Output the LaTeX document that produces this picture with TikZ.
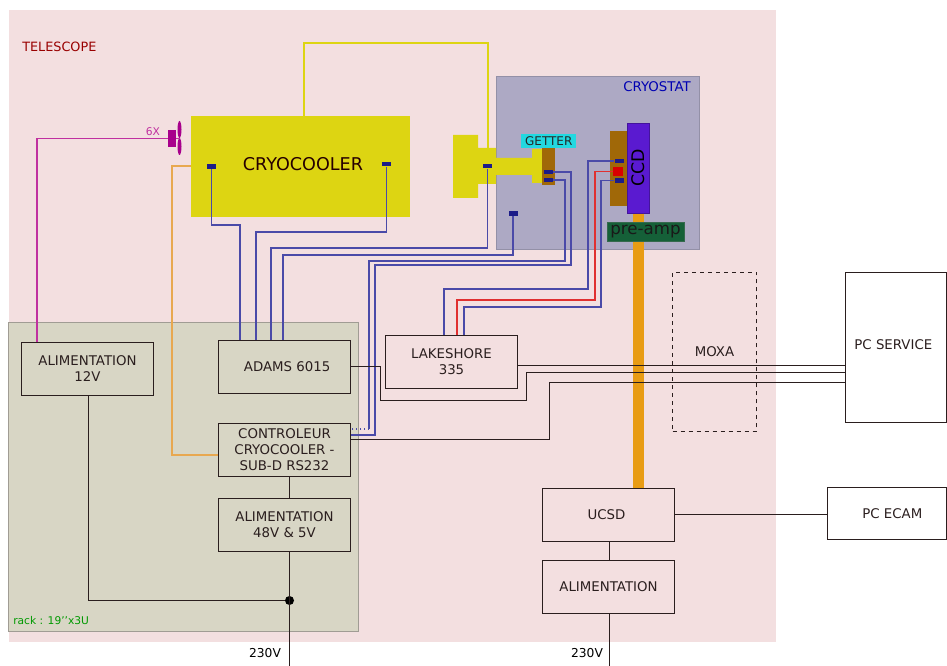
\documentclass[tikz,border=0pt]{standalone}
\usepackage{fontspec}
\setmainfont{DejaVu Sans}
\usetikzlibrary{calc,shapes.geometric}
\definecolor{telefill}{HTML}{F3DFE0}
\definecolor{rackfill}{HTML}{D8D6C5}
\definecolor{rackrule}{HTML}{A09C94}
\definecolor{cryofill}{HTML}{ADA9C4}
\definecolor{coolfill}{HTML}{DDD512}
\definecolor{getfill}{HTML}{22D8E0}
\definecolor{brownfill}{HTML}{A06808}
\definecolor{ccdfill}{HTML}{5A1AD0}
\definecolor{ampfill}{HTML}{156038}
\definecolor{busorange}{HTML}{E89C14}
\definecolor{padblue}{HTML}{1C1C88}
\definecolor{wireblue}{HTML}{4A4AA8}
\definecolor{wirered}{HTML}{E03030}
\definecolor{wirepower}{HTML}{C030A0}
\definecolor{wirefan}{HTML}{A8008C}
\definecolor{wiresync}{HTML}{E8A850}
\definecolor{inkbox}{HTML}{2A1E1E}
\def\px{0.75pt}
\tikzset{
  % ---- generic blocks -------------------------------------------------
  mbox/.style={
    draw=inkbox, line width=1.05pt, minimum width=132*\px, minimum height=53*\px,
    inner sep=0pt, align=center, text=inkbox, font=\fontsize{10}{12}\selectfont},
  mzone/.style={draw=none, inner sep=0pt, anchor=north west},
  mpad/.style={fill=padblue, draw=none, inner sep=0pt,
    minimum width=9*\px, minimum height=4.5*\px},
  mtext/.style={inner sep=0pt, font=\fontsize{9.6}{12}\selectfont},
  mblade/.style={ellipse, fill=wirefan, inner sep=0pt, minimum width=4*\px, minimum height=17*\px},
  % ---- connections ----------------------------------------------------
  mblue/.style={draw=wireblue, line width=0.95pt},
  mred/.style={draw=wirered, line width=0.95pt},
  mblack/.style={draw=inkbox, line width=1pt},
}

\begin{document}
\begin{tikzpicture}[x=\px, y=-\px]
\useasboundingbox (0,0) rectangle (947,666);

% ---- zones -----------------------------------------------------------
\node[mzone, fill=telefill, minimum width=767*\px, minimum height=632*\px] (telescope) at (9,10) {};
\node[mzone, fill=rackfill, draw=rackrule, line width=0.6pt, minimum width=350*\px, minimum height=309*\px] (rack) at (8,322) {};
\node[mzone, fill=cryofill, draw=cryofill!85!black, line width=0.4pt, minimum width=203*\px, minimum height=173*\px] (cryostat) at (496,76) {};
\node[mtext, anchor=west, text=red!60!black] at (22,47) {TELESCOPE};
\node[mtext, anchor=east, text=blue!70!black, font=\fontsize{10}{12}\selectfont] at (691,87) {CRYOSTAT};
\node[mtext, anchor=west, text=green!60!black, font=\fontsize{8}{10}\selectfont] at (13,621) {rack : 19'{}'x3U};

% ---- cold parts ------------------------------------------------------
\node[mzone, fill=coolfill, minimum width=219*\px, minimum height=101*\px] (cooler) at (191,116) {};
\node[text=black!85!red, inner sep=0pt, font=\fontsize{13.2}{15}\selectfont] at (303,164) {CRYOCOOLER};
\draw[draw=coolfill, line width=1.3pt] (cooler.north -| 304,0) |- (488,43) -- (488,150);
\fill[coolfill] (453,135) -| (478,148) -| (496,158) -| (532,149) -| (542,183) -| (532,175)
  -| (496,184) -| (478,198) -| (453,135) -- cycle;

% ---- getter and detector ---------------------------------------------
\node[mzone, fill=brownfill, minimum width=13*\px, minimum height=37*\px] (gettr) at (542,148) {};
\node[mzone, fill=getfill, minimum width=55*\px, minimum height=14*\px] (getlabel) at (521,134) {};
\node[mtext, text=black!85, font=\fontsize{9}{10}\selectfont] at (getlabel) {GETTER};
\node[mzone, fill=brownfill, minimum width=17*\px, minimum height=75*\px] (holder) at (610,131) {};
\node[mzone, fill=ccdfill, draw=ccdfill!75!black, line width=0.4pt, minimum width=22*\px, minimum height=90*\px] (ccd) at (627,123) {};
\node[mtext, rotate=90, font=\fontsize{13}{14}\selectfont] at (638.5,168) {CCD};

% ---- boxes -----------------------------------------------------------
\node[mbox] (alimfan) at (87.5,369) {ALIMENTATION\\12V};
\node[mbox] (adams) at (284.5,367) {\hspace*{4pt}ADAMS 6015};
\node[mbox] (lakeshore) at (451.5,362) {LAKESHORE\\335};
\node[mbox] (controleur) at (284.5,450) {CONTROLEUR\\CRYOCOOLER -\\SUB-D RS232};
\node[mbox] (alimcool) at (284.5,525) {ALIMENTATION\\48V \& 5V};
\node[mbox] (ucsd) at (608.5,515) {UCSD\hspace*{3pt}};
\node[mbox] (alimcam) at (608.5,587) {ALIMENTATION};
\node[mbox, minimum width=101*\px, minimum height=150*\px] (service) at (896,347.5) {\hspace*{-4pt}\raisebox{4.5pt}{PC SERVICE}};
\node[mbox, minimum width=119*\px, minimum height=52*\px] (ecam) at (887,513.5) {\hspace*{8pt}PC ECAM};
\node[mbox, dashed, line width=0.7pt, minimum width=84*\px, minimum height=159*\px] (moxa) at (714.5,352) {MOXA};

% ---- readout bus and pre-amp -----------------------------------------
\draw[busorange, line width=11*\px] (ccd.south) -- (ccd.south |- ucsd.north);
\node[mzone, fill=ampfill, draw=ampfill!70!gray, line width=0.4pt, minimum width=77*\px, minimum height=19*\px] (preamp) at (607,222) {};
\node[mtext, text=black!90, font=\fontsize{12.5}{13}\selectfont] at (645.5,232) {pre-amp};

% ---- pads ------------------------------------------------------------
\foreach \nm/\x/\y in {padcoola/211.5/166.5, padcoolb/386.5/164, padfing/487.5/166,
                       padcryo/513/213.5, padgeta/548/172, padgetb/548/180,
                       padccda/619/161, padccdb/619/180.5}{
  \node[mpad] (\nm) at (\x,\y) {};
}
\node[fill=red!85!black, inner sep=0pt, minimum width=10*\px, minimum height=9*\px] (padccdr) at (618,171.5) {};

% ---- blue wires to adams ---------------------------------------------
\draw[mblue] (padcoola) |- (240,225) -- (240,0 |- adams.north);
\draw[mblue] (padcoolb) |- (256,232) -- (256,0 |- adams.north);
\draw[mblue] (padfing) |- (271,248) -- (271,0 |- adams.north);
\draw[mblue] (padcryo) |- (283,255) -- (283,0 |- adams.north);

% ---- wires to lakeshore ----------------------------------------------
\draw[mblue] (padccda) -| (588,289) -| (444,0 |- lakeshore.north);
\draw[mred] (padccdr) -| (595,300) -| (457,0 |- lakeshore.north);
\draw[mblue] (padccdb) -| (601,307) -| (464,0 |- lakeshore.north);

% ---- wires to controleur ---------------------------------------------
\draw[mblue] (padgeta) -| (571,265) -| (375,435) -- (controleur.east |- 0,435);
\draw[mblue] (padgetb) -| (565,261) -| (369,429);
\draw[mblue, dotted] (369,429) -- (controleur.east |- 0,429);

% ---- fan and cooler feed ---------------------------------------------
\node[fill=wirefan, inner sep=0pt, minimum width=8*\px, minimum height=17*\px] (fan) at (172,138.5) {};
\node[mblade] (bladeup) at (179.5,129.5) {};
\node[mblade] (bladedown) at (179.5,146.5) {};
\coordinate (hub) at (179.5,138.5);
\node[mtext, text=wirepower, font=\fontsize{8}{10}\selectfont] at (153,132) {6X};
\draw[draw=wirepower, line width=0.9pt] (hub) -- (fan) -- (37,0 |- fan) -- (37,0 |- alimfan.north);
\draw[draw=wiresync, line width=0.9pt] (cooler.west |- 0,166) -| (172,455) -- (controleur.west |- 0,455);

% ---- black links -----------------------------------------------------
\draw[mblack] (adams.east |- 0,366.5) -| (380.5,400.5) -| (526.5,372.5) -- (service.west |- 0,372.5);
\draw[mblack] (lakeshore.east |- 0,365.5) -- (service.west |- 0,365.5);
\draw[mblack] (controleur.east |- 0,439.5) -| (549.5,382.5) -- (service.west |- 0,382.5);
\draw[mblack] (289.5,0 |- controleur.south) -- (289.5,0 |- alimcool.north);
\draw[mblack] (609.5,0 |- ucsd.south) -- (609.5,0 |- alimcam.north);
\draw[mblack] (ucsd.east |- 0,514.5) -- (ecam.west |- 0,514.5);

% ---- mains -----------------------------------------------------------
\coordinate (mainsa) at (289.5,666);
\coordinate (mainsb) at (609.5,666);
\node[circle, fill=black, inner sep=0pt, minimum size=9*\px] (joint) at (289.5,600.5) {};
\draw[mblack] (alimcool.south -| joint) -- (mainsa);
\draw[mblack] (88.5,0 |- alimfan.south) |- (joint);
\draw[mblack] (alimcam.south -| mainsb) -- (mainsb);
\node[mtext, font=\fontsize{9.2}{11}\selectfont] at (265,653) {230V};
\node[mtext, font=\fontsize{9.2}{11}\selectfont] at (587,653) {230V};

\end{tikzpicture}
\end{document}
